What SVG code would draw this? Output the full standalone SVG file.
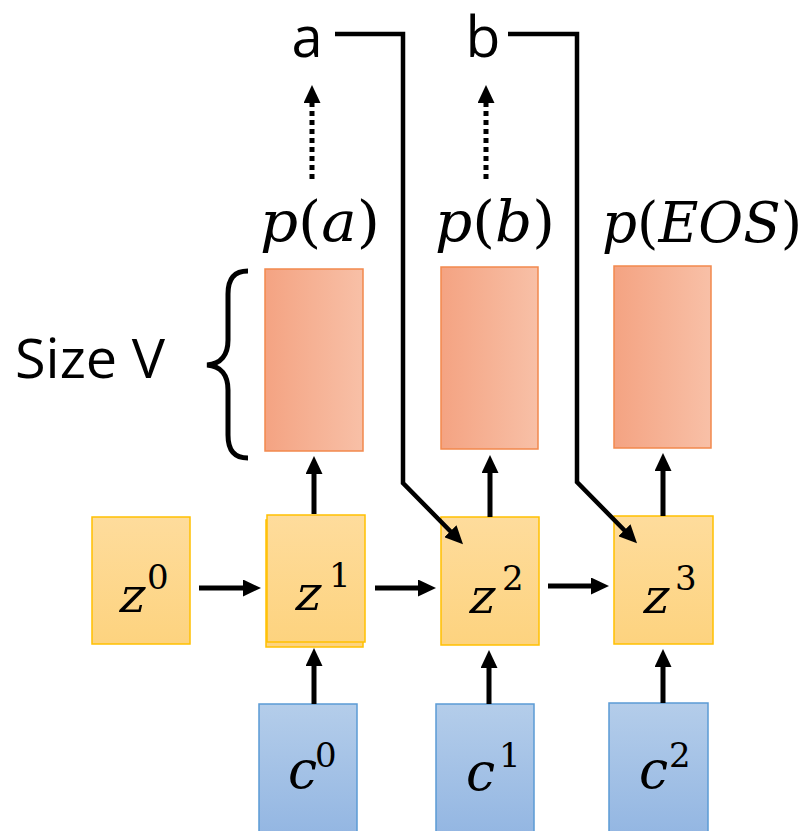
<svg xmlns="http://www.w3.org/2000/svg" width="809" height="831" viewBox="0 0 809 831">
<style>
.pbox{fill:url(#gp);stroke:#F2894D;stroke-width:1.5}
.zbox{fill:url(#gz);stroke:#FFC000;stroke-width:1.5}
.cbox{fill:url(#gc);stroke:#5B9BD5;stroke-width:1.5}
.m{font-family:"DejaVu Serif",serif;font-style:italic;fill:#000}
.zv{font-family:"DejaVu Serif",serif;font-style:normal;font-size:48px;fill:#000}
.sup{font-family:"DejaVu Serif",serif;font-style:normal;font-size:34px;fill:#000}
.up{font-style:normal}
.lbl{font-family:"Open Sans","Noto Sans",sans-serif;fill:#000}
.arr{stroke:#000;stroke-width:5;fill:none;marker-end:url(#ah)}
.fb{stroke:#000;stroke-width:4.5;fill:none;stroke-linejoin:miter;marker-end:url(#ah)}
.dot{stroke:#000;stroke-width:5;fill:none;stroke-dasharray:5 4;marker-end:url(#ah)}
</style>
<defs>
<linearGradient id="gp" x1="0" y1="0" x2="1" y2="0">
<stop offset="0" stop-color="#F4A382"/><stop offset="1" stop-color="#F8C0A7"/>
</linearGradient>
<linearGradient id="gz" x1="0" y1="0" x2="0" y2="1">
<stop offset="0" stop-color="#FEDC9C"/><stop offset="1" stop-color="#FDD37F"/>
</linearGradient>
<linearGradient id="gc" x1="0" y1="0" x2="0" y2="1">
<stop offset="0" stop-color="#B4CDEA"/><stop offset="1" stop-color="#93B6E2"/>
</linearGradient>
<marker id="ah" viewBox="0 0 18 17" refX="8" refY="8.5" markerWidth="18" markerHeight="17" markerUnits="userSpaceOnUse" orient="auto">
<path d="M0,0 L18,8.5 L0,17 z" fill="#000"/>
</marker>
</defs>

<g id="top-labels">
<text class="lbl" x="307" y="57" font-size="56" text-anchor="middle">a</text>
<text class="lbl" x="483" y="57" font-size="57" text-anchor="middle">b</text>
</g>

<g id="size-v">
<text class="lbl" x="15" y="378" font-size="55" textLength="150" lengthAdjust="spacingAndGlyphs">Size V</text>
<path d="M248,271 C234,271 228,279 228,294 L228,340 C228,355 221,364 207,365 C221,366 228,375 228,390 L228,435 C228,450 234,458 248,458" fill="none" stroke="#000" stroke-width="5"/>
</g>

<g id="p-a">
<rect class="pbox" x="265" y="269" width="98" height="182"/>
<text class="m" x="260" y="241" font-size="56" textLength="120" lengthAdjust="spacingAndGlyphs">p<tspan class="up">(</tspan>a<tspan class="up">)</tspan></text>
</g>
<g id="p-b">
<rect class="pbox" x="441" y="267" width="97" height="182"/>
<text class="m" x="435" y="241" font-size="56" textLength="120" lengthAdjust="spacingAndGlyphs">p<tspan class="up">(</tspan>b<tspan class="up">)</tspan></text>
</g>
<g id="p-eos">
<rect class="pbox" x="614" y="266" width="97" height="182"/>
<text class="m" x="602" y="242" font-size="56" textLength="200" lengthAdjust="spacingAndGlyphs">p<tspan class="up">(</tspan>EOS<tspan class="up">)</tspan></text>
</g>

<g id="z0">
<rect class="zbox" x="92" y="517" width="98" height="127"/>
<text class="zv" transform="translate(117,612) skewX(-13)">z</text>
<text class="sup" x="147" y="589">0</text>
</g>
<g id="z1">
<rect class="zbox" x="266" y="520" width="97" height="127"/>
<rect class="zbox" x="267" y="515" width="98" height="127"/>
<text class="zv" transform="translate(293,610) skewX(-13)">z</text>
<text class="sup" x="329" y="587">1</text>
</g>
<g id="z2">
<rect class="zbox" x="441" y="517" width="98" height="128"/>
<text class="zv" transform="translate(467,613) skewX(-13)">z</text>
<text class="sup" x="502" y="590">2</text>
</g>
<g id="z3">
<rect class="zbox" x="614" y="516" width="99" height="128"/>
<text class="zv" transform="translate(641,613) skewX(-13)">z</text>
<text class="sup" x="675" y="590">3</text>
</g>

<g id="c0">
<rect class="cbox" x="259" y="704" width="98" height="132"/>
<text class="m" font-size="52" x="288" y="788">c</text>
<text class="sup" x="315" y="767">0</text>
</g>
<g id="c1">
<rect class="cbox" x="436" y="704" width="98" height="132"/>
<text class="m" font-size="52" x="466" y="790">c</text>
<text class="sup" x="499" y="767">1</text>
</g>
<g id="c2">
<rect class="cbox" x="609" y="703" width="99" height="133"/>
<text class="m" font-size="52" x="639" y="788">c</text>
<text class="sup" x="669" y="767">2</text>
</g>

<g id="connectors">
<line class="arr" x1="199" y1="588" x2="251" y2="588"/>
<line class="arr" x1="375" y1="588" x2="426" y2="588"/>
<line class="arr" x1="548" y1="586" x2="599" y2="586"/>
<line class="arr" x1="314" y1="514" x2="314" y2="466"/>
<line class="arr" x1="490" y1="517" x2="490" y2="465"/>
<line class="arr" x1="663" y1="516" x2="663" y2="463"/>
<line class="arr" x1="314" y1="704" x2="314" y2="658"/>
<line class="arr" x1="489" y1="704" x2="489" y2="660"/>
<line class="arr" x1="663" y1="703" x2="663" y2="659"/>
<polyline class="fb" points="335,34 403,34 403,483 456,537"/>
<polyline class="fb" points="508,34 577,34 577,482 630,536"/>
<line class="dot" x1="312" y1="179" x2="312" y2="95"/>
<line class="dot" x1="486" y1="179" x2="486" y2="95"/>
</g>
</svg>
